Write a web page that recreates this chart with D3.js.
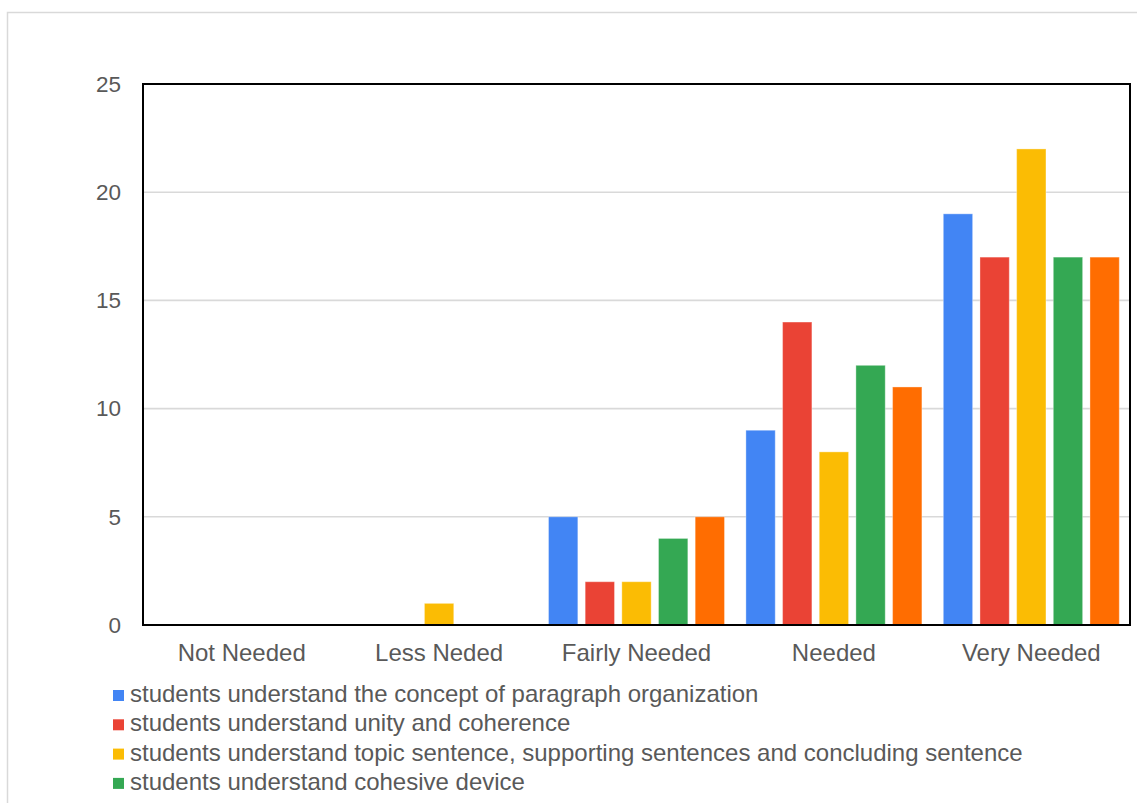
<!DOCTYPE html>
<html>
<head>
<meta charset="utf-8">
<script src="https://cdn.jsdelivr.net/npm/d3@7"></script>
<style>
  html, body { margin: 0; padding: 0; background: #fff; overflow: hidden; }
  svg { display: block; font-family: "Liberation Sans", Arial, sans-serif; }
</style>
</head>
<body>
<svg id="chart" width="1137" height="803"></svg>
<script>
// Response categories along the x axis
const categories = ["Not Needed", "Less Neded", "Fairly Needed", "Needed", "Very Needed"];

// Statements listed in the legend (in series order)
const legendNames = [
  "students understand the concept of paragraph organization",
  "students understand unity and coherence",
  "students understand topic sentence, supporting sentences and concluding sentence",
  "students understand cohesive device"
];

// Counts per category for each statement
const paragraphOrganization = [0, 0, 5, 9, 19];
const unityCoherence        = [0, 0, 2, 14, 17];
const topicSentence         = [0, 1, 2, 8, 22];
const cohesiveDevice        = [0, 0, 4, 12, 17];
const fifthStatement        = [0, 0, 5, 11, 17];

const seriesValues = [paragraphOrganization, unityCoherence, topicSentence, cohesiveDevice, fifthStatement];
const seriesColors = ["#4285F4", "#EA4335", "#FBBC04", "#34A853", "#FF6D01"];

const yTicks = [0, 5, 10, 15, 20, 25];

const svg = d3.select("#chart");
const textColor = "#595959";

// Outer frame
svg.append("rect")
  .attr("x", 7.5).attr("y", 12.5)
  .attr("width", 1150).attr("height", 820)
  .attr("fill", "none").attr("stroke", "#d9d9d9").attr("stroke-width", 1.5);

const plot = { left: 143, top: 84, right: 1130, bottom: 625 };

const x0 = d3.scaleBand()
  .domain(categories)
  .range([plot.left, plot.right])
  .paddingInner(0).paddingOuter(0);

const groupPad = 10.7;
const x1 = d3.scaleBand()
  .domain(d3.range(seriesValues.length))
  .range([groupPad, x0.bandwidth() - groupPad])
  .paddingInner(0.2).paddingOuter(0);

const y = d3.scaleLinear().domain([0, 25]).range([plot.bottom, plot.top]);

// Horizontal gridlines
svg.append("g")
  .selectAll("line")
  .data(yTicks.filter(t => t > 0 && t < 25))
  .join("line")
  .attr("x1", plot.left).attr("x2", plot.right)
  .attr("y1", d => y(d)).attr("y2", d => y(d))
  .attr("stroke", "#d9d9d9").attr("stroke-width", 1.6);

// Y axis tick labels
const yAxis = d3.axisLeft(y).tickValues(yTicks).tickSize(0).tickPadding(22);
const gy = svg.append("g")
  .attr("transform", `translate(${plot.left},0)`)
  .call(yAxis);
gy.select(".domain").remove();
gy.selectAll("text")
  .attr("fill", textColor)
  .style("font-size", "22.5px")
  .style("font-family", "'Liberation Sans', Arial, sans-serif");

// Bars
const groups = svg.append("g")
  .selectAll("g")
  .data(categories)
  .join("g")
  .attr("transform", d => `translate(${x0(d)},0)`);

groups.selectAll("rect")
  .data((c, ci) => seriesValues.map((vals, si) => ({ si, v: vals[ci] })))
  .join("rect")
  .filter(d => d.v > 0)
  .attr("x", d => x1(d.si))
  .attr("width", x1.bandwidth())
  .attr("y", d => y(d.v))
  .attr("height", d => y(0) - y(d.v))
  .attr("fill", d => seriesColors[d.si])
  .attr("stroke", "rgba(255,255,255,0.35)")
  .attr("stroke-width", 1);

// Plot frame
svg.append("rect")
  .attr("x", plot.left).attr("y", plot.top)
  .attr("width", plot.right - plot.left).attr("height", plot.bottom - plot.top)
  .attr("fill", "none").attr("stroke", "#000").attr("stroke-width", 2);

// X axis category labels
const xAxis = d3.axisBottom(x0).tickSize(0).tickPadding(19);
const gx = svg.append("g")
  .attr("transform", `translate(0,${plot.bottom})`)
  .call(xAxis);
gx.select(".domain").remove();
gx.selectAll("text")
  .attr("fill", textColor)
  .style("font-size", "24px")
  .style("font-family", "'Liberation Sans', Arial, sans-serif");

// Legend
const legend = svg.append("g").attr("transform", "translate(113,690)");
const rowH = 29.3;
const items = legend.selectAll("g")
  .data(legendNames)
  .join("g")
  .attr("transform", (d, i) => `translate(0,${i * rowH})`);
items.append("rect")
  .attr("width", 11).attr("height", 11)
  .attr("fill", (d, i) => seriesColors[i]);
items.append("text")
  .attr("x", 17).attr("y", 12)
  .attr("fill", textColor)
  .style("font-size", "24px")
  .text(d => d);
</script>
</body>
</html>
